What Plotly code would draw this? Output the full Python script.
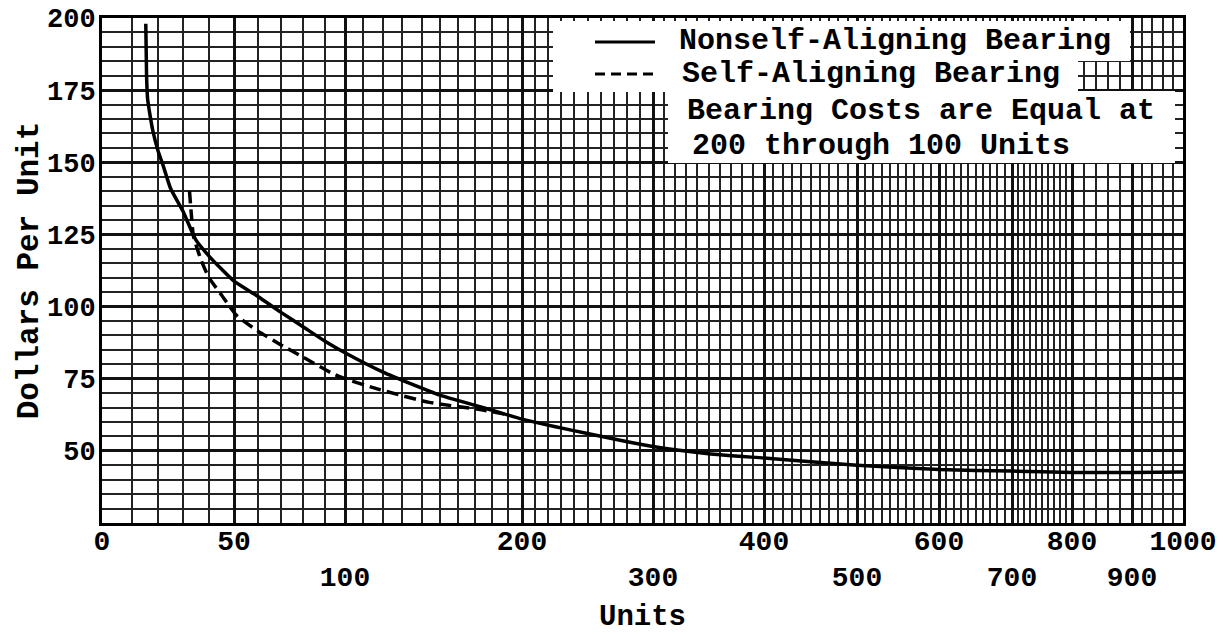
import numpy as np
import plotly.graph_objects as go

# ---- data ----
units_nonself = [15.3, 15.6, 16, 17, 18, 20, 22, 25, 30, 35, 40, 45, 50, 60, 70, 80, 90, 100,
                 120, 150, 180, 200, 250, 300, 350, 400, 500, 600, 700, 800, 900, 1000]
cost_nonself = [198, 180, 172, 166, 161, 154, 149, 141, 133, 123, 117.5, 113, 108.8, 103.5, 98, 93,
                88, 84, 77.3, 69.3, 64.1, 61, 56, 51.5, 49, 47.5, 45, 43.5, 43, 42.5, 42.5, 42.7]

units_self = [32.5, 33.2, 34, 37, 40, 45, 51, 60, 70, 80, 94, 100, 118, 144, 172, 190]
cost_self = [140, 132, 124.5, 116, 110, 104, 97, 91.5, 86.7, 82.5, 76.7, 75, 71.3, 66.8, 64.4, 62.5]

# non-uniform printed x scale (units -> axis position), read from the grid
scale_units = [0, 10, 20, 30, 40, 50, 60, 70, 80, 90, 100, 110, 120, 130, 140, 150, 160, 170,
               180, 190, 200, 300, 400, 500, 600, 700, 800, 900, 1000]
scale_pos = [0, 30, 56, 81, 107, 132, 156, 179, 201, 223, 243, 261, 281, 300, 320, 338, 356, 373,
             390, 406, 420, 551, 662, 755, 837, 910, 970, 1030, 1081]

xtick_units = [0, 50, 100, 200, 300, 400, 500, 600, 700, 800, 900, 1000]
xtick_text = ["0", "50", "<br>100", "200", "<br>300", "400", "<br>500", "600", "<br>700",
              "800", "<br>900", "1000"]
x_minor_units = list(range(0, 800, 10)) + list(range(800, 1001, 20))
ytick_vals = [50, 75, 100, 125, 150, 175, 200]


def to_pos(u):
    return np.interp(u, scale_units, scale_pos)


W, H = 1223, 634
ML, MR, MT, MB = 102, 40, 18, 111
PW, PH = W - ML - MR, H - MT - MB


def px(xp):
    return (xp - ML) / PW


def py(yp):
    return (H - MB - yp) / PH


FONT = "Liberation Mono"

fig = go.Figure()
fig.add_trace(go.Scatter(
    x=to_pos(units_nonself), y=cost_nonself, mode="lines",
    name="Nonself-Aligning Bearing", showlegend=False,
    line=dict(color="black", width=3.5, shape="spline", smoothing=0.5)))
fig.add_trace(go.Scatter(
    x=to_pos(units_self), y=cost_self, mode="lines",
    name="Self-Aligning Bearing", showlegend=False,
    line=dict(color="black", width=3.5, dash="12px,6px", shape="spline", smoothing=0.5)))

shapes = []
for (x0, x1, y0, y1) in [(553, 1130, 21, 61), (553, 1078, 60, 92), (668, 1175, 91, 163)]:
    shapes.append(dict(type="rect", xref="paper", yref="paper", layer="above",
                       x0=px(x0), x1=px(x1), y0=py(y1), y1=py(y0),
                       fillcolor="white", line=dict(width=0)))
shapes.append(dict(type="line", xref="paper", yref="paper", layer="above",
                   x0=px(595), x1=px(655), y0=py(42), y1=py(42),
                   line=dict(color="black", width=3)))
shapes.append(dict(type="line", xref="paper", yref="paper", layer="above",
                   x0=px(595), x1=px(655), y0=py(74), y1=py(74),
                   line=dict(color="black", width=3, dash="10px,6px")))

texts = [("Nonself-Aligning Bearing", 677, 41),
         ("Self-Aligning Bearing", 680, 74),
         ("Bearing Costs are Equal at", 685, 111),
         ("200 through 100 Units", 690, 146)]
annotations = [dict(text=t, x=px(x), y=py(y), xref="paper", yref="paper",
                    xanchor="left", yanchor="middle", showarrow=False,
                    font=dict(family=FONT, size=30, color="black", weight="bold"))
               for t, x, y in texts]

fig.update_layout(
    width=W, height=H,
    margin=dict(l=ML, r=MR, t=MT, b=MB),
    paper_bgcolor="white", plot_bgcolor="white",
    shapes=shapes, annotations=annotations,
    font=dict(family=FONT, color="black"),
    xaxis=dict(
        range=[0, scale_pos[-1]], tickmode="array",
        tickvals=to_pos(xtick_units), ticktext=xtick_text, tickangle=0,
        ticklabelstandoff=-10, ticklabeloverflow="allow",
        tickfont=dict(family=FONT, size=28, color="black", weight="bold"),
        showgrid=True, gridcolor="#111", gridwidth=2.6,
        minor=dict(tickvals=to_pos(x_minor_units), showgrid=True, gridcolor="#222", gridwidth=1.5),
        showline=True, linecolor="black", linewidth=3, mirror=True,
        zeroline=False, ticks="", automargin=False,
        title=dict(text="Units", standoff=16,
                   font=dict(family=FONT, size=29, color="black", weight="bold")),
    ),
    yaxis=dict(
        range=[25, 200], tickmode="array", tickvals=ytick_vals,
        ticklabeloverflow="allow", ticklabelstandoff=-2,
        tickfont=dict(family=FONT, size=27, color="black", weight="bold"),
        showgrid=True, gridcolor="#111", gridwidth=2.6,
        minor=dict(tick0=0, dtick=5, showgrid=True, gridcolor="#222", gridwidth=1.5),
        showline=True, linecolor="black", linewidth=3, mirror=True,
        zeroline=False, ticks="", automargin=False,
        title=dict(text="Dollars Per Unit", standoff=0,
                   font=dict(family=FONT, size=31, color="black", weight="bold")),
    ),
)

# drop the browser's default 8px body margin so the figure fills the window exactly
fig.write_html("out.html", config={"displayModeBar": False},
               post_script="document.body.style.margin='0px';")
